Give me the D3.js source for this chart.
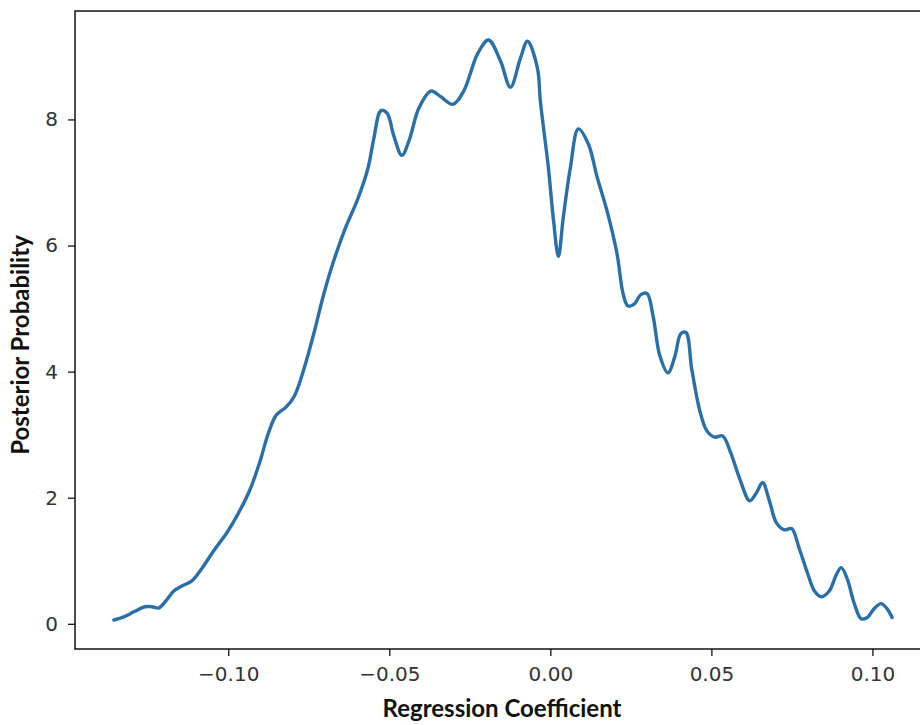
<!DOCTYPE html>
<html>
<head>
<meta charset="utf-8">
<script src="https://cdn.jsdelivr.net/npm/d3@7"></script>
<style>
  html, body { margin: 0; padding: 0; background: #fff; }
  svg { display: block; }
</style>
</head>
<body>
<div id="chart"></div>
<script>
// Regression coefficient (x) values along the posterior density curve
const coefficient = [
  -0.1355, -0.1324, -0.1293, -0.1259, -0.1237, -0.1216, -0.1191, -0.1169, -0.1144, -0.1113,
  -0.1083, -0.1045, -0.1005, -0.0968, -0.0934, -0.0903, -0.0875, -0.0851, -0.0820, -0.0795,
  -0.0767, -0.0736, -0.0705, -0.0680, -0.0640, -0.0597, -0.0566, -0.0548, -0.0526, -0.0507,
  -0.0486, -0.0461, -0.0439, -0.0408, -0.0371, -0.0340, -0.0303, -0.0269, -0.0226, -0.0192,
  -0.0155, -0.0124, -0.0093, -0.0071, -0.0040, -0.0031, -0.0006, 0.0009, 0.0025, 0.0040,
  0.0062, 0.0087, 0.0118, 0.0146, 0.0176, 0.0207, 0.0226, 0.0241, 0.0260, 0.0281,
  0.0300, 0.0319, 0.0340, 0.0365, 0.0387, 0.0405, 0.0421, 0.0439, 0.0464, 0.0486,
  0.0510, 0.0535, 0.0560, 0.0588, 0.0619, 0.0640, 0.0659, 0.0680, 0.0702, 0.0727,
  0.0749, 0.0773, 0.0798, 0.0820, 0.0841, 0.0866, 0.0888, 0.0903, 0.0922, 0.0943,
  0.0965, 0.0984, 0.1005, 0.1027, 0.1045, 0.1061
];
// Posterior probability density at each coefficient
const density = [
  0.06, 0.11, 0.19, 0.27, 0.27, 0.25, 0.38, 0.52, 0.60, 0.68,
  0.87, 1.16, 1.44, 1.76, 2.11, 2.55, 3.03, 3.31, 3.44, 3.61,
  4.01, 4.57, 5.20, 5.64, 6.23, 6.75, 7.23, 7.70, 8.14, 8.10,
  7.74, 7.43, 7.66, 8.18, 8.45, 8.36, 8.24, 8.45, 9.04, 9.26,
  8.93, 8.51, 8.97, 9.24, 8.81, 8.29, 7.23, 6.44, 5.83, 6.44,
  7.23, 7.85, 7.61, 7.07, 6.55, 5.87, 5.23, 5.04, 5.07, 5.22,
  5.24, 4.88, 4.25, 3.98, 4.25, 4.60, 4.62, 4.04, 3.38, 3.06,
  2.96, 2.98, 2.71, 2.30, 1.95, 2.08, 2.24, 1.95, 1.60, 1.49,
  1.51, 1.19, 0.81, 0.52, 0.43, 0.52, 0.78, 0.89, 0.71, 0.33,
  0.08, 0.10, 0.24, 0.32, 0.24, 0.10
];
const xTicks = [-0.10, -0.05, 0.00, 0.05, 0.10];
const yTicks = [0, 2, 4, 6, 8];
const xLabel = "Regression Coefficient";
const yLabel = "Posterior Probability";

const W = 920, H = 725;
const mLeft = 75, mTop = 11, mRight = 931, mBottom = 649;

const points = coefficient.map((c, i) => ({ x: c, y: density[i] }));
const xMin = d3.min(coefficient), xMax = d3.max(coefficient);
const yMin = d3.min(density), yMax = d3.max(density);
const xPad = (xMax - xMin) * 0.05, yPad = (yMax - yMin) * 0.05;

const x = d3.scaleLinear().domain([xMin - xPad, xMax + xPad]).range([mLeft, mRight]);
const y = d3.scaleLinear().domain([yMin - yPad, yMax + yPad]).range([mBottom, mTop]);

const svg = d3.select("#chart").append("svg").attr("width", W).attr("height", H);

const fmtX = v => (v < 0 ? "\u2212" : "") + Math.abs(v).toFixed(2);

const xAxis = svg.append("g")
  .attr("transform", `translate(0,${mBottom})`)
  .call(d3.axisBottom(x).tickValues(xTicks).tickFormat(fmtX).tickSize(7).tickPadding(11).tickSizeOuter(0));
const yAxis = svg.append("g")
  .attr("transform", `translate(${mLeft},0)`)
  .call(d3.axisLeft(y).tickValues(yTicks).tickFormat(d3.format("d")).tickSize(7).tickPadding(10).tickSizeOuter(0));

[xAxis, yAxis].forEach(g => {
  g.select(".domain").remove();
  g.selectAll(".tick line").attr("stroke", "#000").attr("stroke-width", 1.2);
  g.selectAll(".tick text").attr("fill", "#333").style("font-family", "DejaVu Sans").style("font-size", "20px");
});

// Spines
svg.append("rect")
  .attr("x", mLeft).attr("y", mTop)
  .attr("width", mRight - mLeft).attr("height", mBottom - mTop)
  .attr("fill", "none").attr("stroke", "#000").attr("stroke-width", 1.4);

const line = d3.line().x(d => x(d.x)).y(d => y(d.y)).curve(d3.curveCatmullRom.alpha(0.5));
svg.append("path")
  .datum(points)
  .attr("d", line)
  .attr("fill", "none")
  .attr("stroke", "#2a6fa6")
  .attr("stroke-width", 3.4)
  .attr("stroke-linejoin", "round")
  .attr("stroke-linecap", "round");

svg.append("text")
  .attr("x", 502).attr("y", 717)
  .attr("text-anchor", "middle")
  .style("font-family", "Lato").style("font-weight", "bold").style("font-size", "24px")
  .attr("fill", "#111")
  .text(xLabel);

svg.append("text")
  .attr("transform", `translate(29,345) rotate(-90)`)
  .attr("text-anchor", "middle")
  .style("font-family", "Lato").style("font-weight", "bold").style("font-size", "24px")
  .attr("fill", "#111")
  .text(yLabel);
</script>
</body>
</html>
